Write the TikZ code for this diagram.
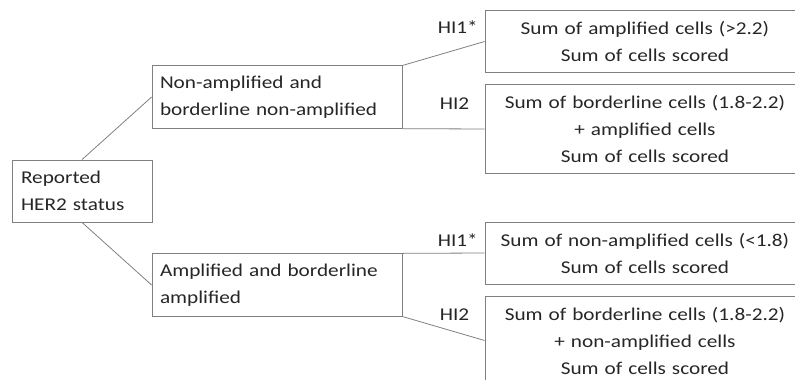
\documentclass[tikz,border=0pt]{standalone}
\usepackage{fontspec}
\setmainfont{Carlito}[FakeStretch=1.18]

\begin{document}
\begin{tikzpicture}[x=1pt,y=1pt,grow'=right,
  level 1/.style={level distance=195.25pt,sibling distance=188pt},
  level 2/.style={level distance=367.75pt,sibling distance=87.5pt},
  edge from parent/.style={draw=black!50,line width=0.8pt},
  diagbox/.style={draw=black!50,line width=0.8pt,text=black!85,
    font=\fontsize{18}{27}\selectfont,inner ysep=0pt},
  statusbox/.style={diagbox,align=left,text width=122pt,inner xsep=9pt,minimum height=62pt},
  groupbox/.style={diagbox,align=left,text width=234.5pt,inner xsep=8pt,minimum height=62.5pt},
  ratiobox/.style={diagbox,align=center,text width=300pt,inner xsep=10pt,minimum height=#1},
  hilabel/.style={anchor=base west,inner sep=0pt,text=black!85,font=\fontsize{18}{27}\selectfont},
  upper/.style={edge from parent path={(\tikzparentnode.north) -- (\tikzchildnode.west)}},
  lower/.style={edge from parent path={(\tikzparentnode.south) -- (\tikzchildnode.west)}},
  first/.style={edge from parent path={(\tikzparentnode.north east) -- (\tikzchildnode.west)}},
  second/.style={edge from parent path={(\tikzparentnode.south east) -- (\tikzchildnode.west)}}]
  \useasboundingbox (0,0) rectangle (795,-380);
  \clip (0,0) rectangle (795,-380);
  \node[statusbox] (status) at (82,-191) {Reported\\HER2 status}
    child[upper]{
      node[groupbox] (nonamp) {Non-amplified and\\borderline non-amplified}
      child[first]{
        node[ratiobox=62pt,yshift=11.75pt] (nonampA)
          {Sum of amplified cells (>2.2)\\Sum of cells scored}
      }
      child[second]{
        node[ratiobox=89pt,yshift=11.75pt] (nonampB)
          {Sum of borderline cells (1.8-2.2)\\+ amplified cells\\Sum of cells scored}
      }
    }
    child[lower]{
      node[groupbox] (amp) {Amplified and borderline\\amplified}
      child[first]{
        node[ratiobox=62pt,yshift=-11.75pt] (ampA)
          {Sum of non-amplified cells (<1.8)\\Sum of cells scored}
      }
      child[second]{
        node[ratiobox=89pt,yshift=-11.75pt] (ampB)
          {Sum of borderline cells (1.8-2.2)\\+ non-amplified cells\\Sum of cells scored}
      }
    }
  ;
  % index labels
  \node[hilabel] (hiNA) at ([xshift=-47pt,yshift=-23pt]nonampA.north west) {HI1*};
  \node[hilabel] (hiNB) at ([xshift=-45pt,yshift=-25pt]nonampB.north west) {HI2};
  \node[hilabel] (hiAA) at ([xshift=-47pt,yshift=-25pt]ampA.north west) {HI1*};
  \node[hilabel] (hiAB) at ([xshift=-45pt,yshift=-25pt]ampB.north west) {HI2};
\end{tikzpicture}
\end{document}
